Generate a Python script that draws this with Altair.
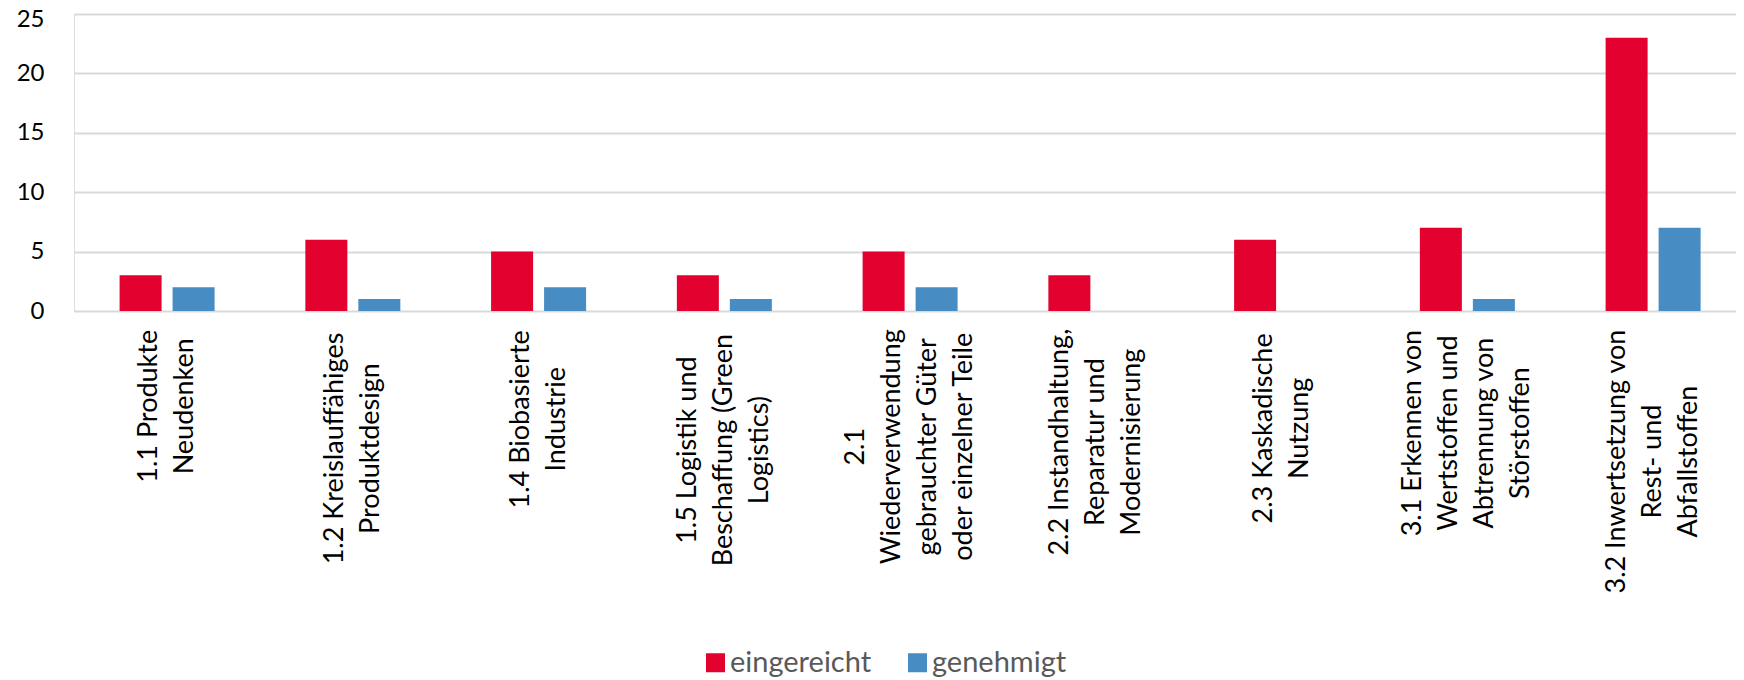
import altair as alt
import pandas as pd

categories = [
    "1.1 Produkte\nNeudenken",
    "1.2 Kreislauffähiges\nProduktdesign",
    "1.4 Biobasierte\nIndustrie",
    "1.5 Logistik und\nBeschaffung (Green\nLogistics)",
    "2.1\nWiederverwendung\ngebrauchter Güter\noder einzelner Teile",
    "2.2 Instandhaltung,\nReparatur und\nModernisierung",
    "2.3 Kaskadische\nNutzung",
    "3.1 Erkennen von\nWertstoffen und\nAbtrennung von\nStörstoffen",
    "3.2 Inwertsetzung von\nRest- und\nAbfallstoffen",
]
eingereicht = [3, 6, 5, 3, 5, 3, 6, 7, 23]
genehmigt = [2, 1, 2, 1, 2, 0, 0, 1, 7]
series = ["eingereicht", "genehmigt"]
colors = ["#E3022F", "#478CC2"]
y_ticks = [0, 5, 10, 15, 20, 25]

rows = []
for c, a, b in zip(categories, eingereicht, genehmigt):
    rows.append({"Kategorie": c, "Serie": series[0], "Wert": a})
    rows.append({"Kategorie": c, "Serie": series[1], "Wert": b})
df = pd.DataFrame(rows)
lab = pd.DataFrame({"Kategorie": categories})

W, H = 1662, 297
FS = 27
LH = 36
PAD = 21

def cnt(s, cls):
    return f"(length({s})-length(replace({s}, regexp('{cls}','g'), '')))"

def wexpr(s):
    return (f"({FS}*(0.53*length({s}) - 0.31*{cnt(s, '[ilj.,I ]')} - 0.18*{cnt(s, '[tfr()-]')}"
            f" + 0.25*{cnt(s, '[mw]')} + 0.42*{cnt(s, '[WM]')} + 0.12*{cnt(s, '[A-HJ-LN-VX-ZÄÖÜ]')}))")

parts = [wexpr(f"(datum.L[{i}]||'')") for i in range(4)]
hw_expr = f"max({', '.join(parts)})/2"

xscale = alt.Scale(paddingInner=0.4886, paddingOuter=0.218, align=0.563)

bars = alt.Chart(df).mark_bar().encode(
    x=alt.X("Kategorie:N", sort=categories, scale=xscale, axis=None),
    xOffset=alt.XOffset("Serie:N", sort=series, scale=alt.Scale(paddingInner=0.2075, paddingOuter=0)),
    y=alt.Y("Wert:Q", scale=alt.Scale(domain=[0, 25], nice=False),
            axis=alt.Axis(values=y_ticks, title=None, domain=False, ticks=False, tickSize=0,
                          labelPadding=30, labelFontSize=24, labelColor="#000000",
                          labelOffset={"condition": {"test": "datum.value == 25", "value": 5}, "value": 0},
                          labelFont="Lato", gridColor="#D9D9D9", gridWidth=2)),
    color=alt.Color("Serie:N", scale=alt.Scale(domain=series, range=colors),
                    legend=alt.Legend(title=None, orient="none", direction="horizontal",
                                      legendX=627, legendY=634, symbolType="square",
                                      symbolSize=361, symbolStrokeWidth=0, labelFontSize=29,
                                      labelFont="Lato", labelColor="#595959", labelOffset=0,
                                      columnPadding=31, padding=0)),
)

labels = alt.Chart(lab).transform_calculate(
    L="split(datum.Kategorie, '\\n')"
).transform_calculate(
    ly=f"{H} + {PAD} + {hw_expr}"
).mark_text(angle=270, align="center", baseline="middle", lineBreak="\n",
            fontSize=FS, font="Lato", lineHeight=LH, color="#000000",
            dy=alt.expr(f"-(length(datum.L)-1)*{LH}/2")).encode(
    x=alt.X("Kategorie:N", sort=categories, scale=xscale, axis=None),
    y=alt.Y("ly:Q", scale=None, axis=None),
    text="Kategorie:N",
)

chart = alt.layer(bars, labels).resolve_scale(y="independent").properties(
    width=W, height=H,
    autosize=alt.AutoSizeParams(type="none"),
    padding={"left": 66, "top": 6, "right": 0, "bottom": 369},
).configure_view(stroke=None).configure(font="Lato")

chart.save("out.html", embed_options={"renderer": "svg", "actions": False})
